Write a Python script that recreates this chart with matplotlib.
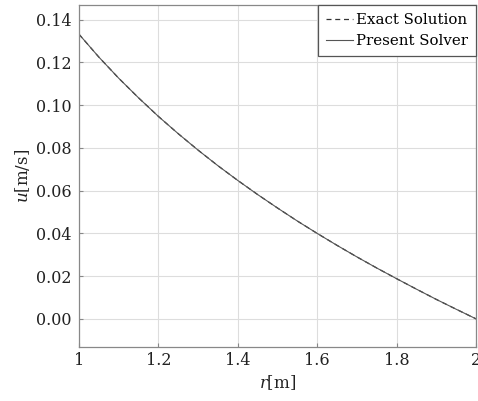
import numpy as np
import matplotlib
matplotlib.use('Agg')
import matplotlib.pyplot as plt

# radial positions and velocity values
r = [1.00, 1.05, 1.10, 1.15, 1.20, 1.25, 1.30, 1.35, 1.40, 1.45, 1.50,
     1.55, 1.60, 1.65, 1.70, 1.75, 1.80, 1.85, 1.90, 1.95, 2.00]
u_exact = [0.1333, 0.1226, 0.1127, 0.1035, 0.0948, 0.0867, 0.0790, 0.0717,
           0.0648, 0.0582, 0.0519, 0.0458, 0.0400, 0.0344, 0.0290, 0.0238,
           0.0188, 0.0139, 0.0091, 0.0045, 0.0000]
u_solver = [0.1333, 0.1226, 0.1127, 0.1035, 0.0948, 0.0867, 0.0790, 0.0717,
            0.0648, 0.0582, 0.0519, 0.0458, 0.0400, 0.0344, 0.0290, 0.0238,
            0.0188, 0.0139, 0.0091, 0.0045, 0.0000]
yticks = [0.00, 0.02, 0.04, 0.06, 0.08, 0.10, 0.12, 0.14]
xticks = [1, 1.2, 1.4, 1.6, 1.8, 2]

plt.rcParams['font.family'] = 'DejaVu Serif'
plt.rcParams['mathtext.fontset'] = 'dejavuserif'

fig = plt.figure(figsize=(4.78, 4.01), dpi=100)
ax = fig.add_axes([0.165, 0.135, 0.831, 0.853])

ax.plot(r, u_exact, color='#333333', linestyle=(0, (4, 3)), linewidth=0.9, label='Exact Solution')
ax.plot(r, u_solver, color='#555555', linestyle='-', linewidth=0.8, label='Present Solver')

ax.set_xlim(1, 2)
ax.set_ylim(-0.0131, 0.147)
ax.set_xticks(xticks)
ax.set_xticklabels(['1', '1.2', '1.4', '1.6', '1.8', '2'])
ax.set_yticks(yticks)
ax.set_yticklabels([f'{v:.2f}' for v in yticks])
ax.tick_params(direction='in', length=3, color='#888888', labelsize=11.5, labelcolor='#222222')
ax.tick_params(axis='y', pad=5)
ax.grid(True, color='#dddddd', linewidth=0.8)
for s in ax.spines.values():
    s.set_color('#888888')
    s.set_linewidth(0.9)

ax.set_xlabel('$r$[m]', fontsize=12, color='#222222', labelpad=3)
ax.set_ylabel('$u$[m/s]', fontsize=12, color='#222222', labelpad=3)

leg = ax.legend(loc='upper right', fontsize=10.8, fancybox=False, framealpha=1,
                edgecolor='#555555', borderaxespad=0.0, borderpad=0.55,
                handlelength=1.8, handletextpad=0.2, labelspacing=0.45)
leg.get_frame().set_linewidth(0.9)

fig.savefig('out.png', dpi=100)
